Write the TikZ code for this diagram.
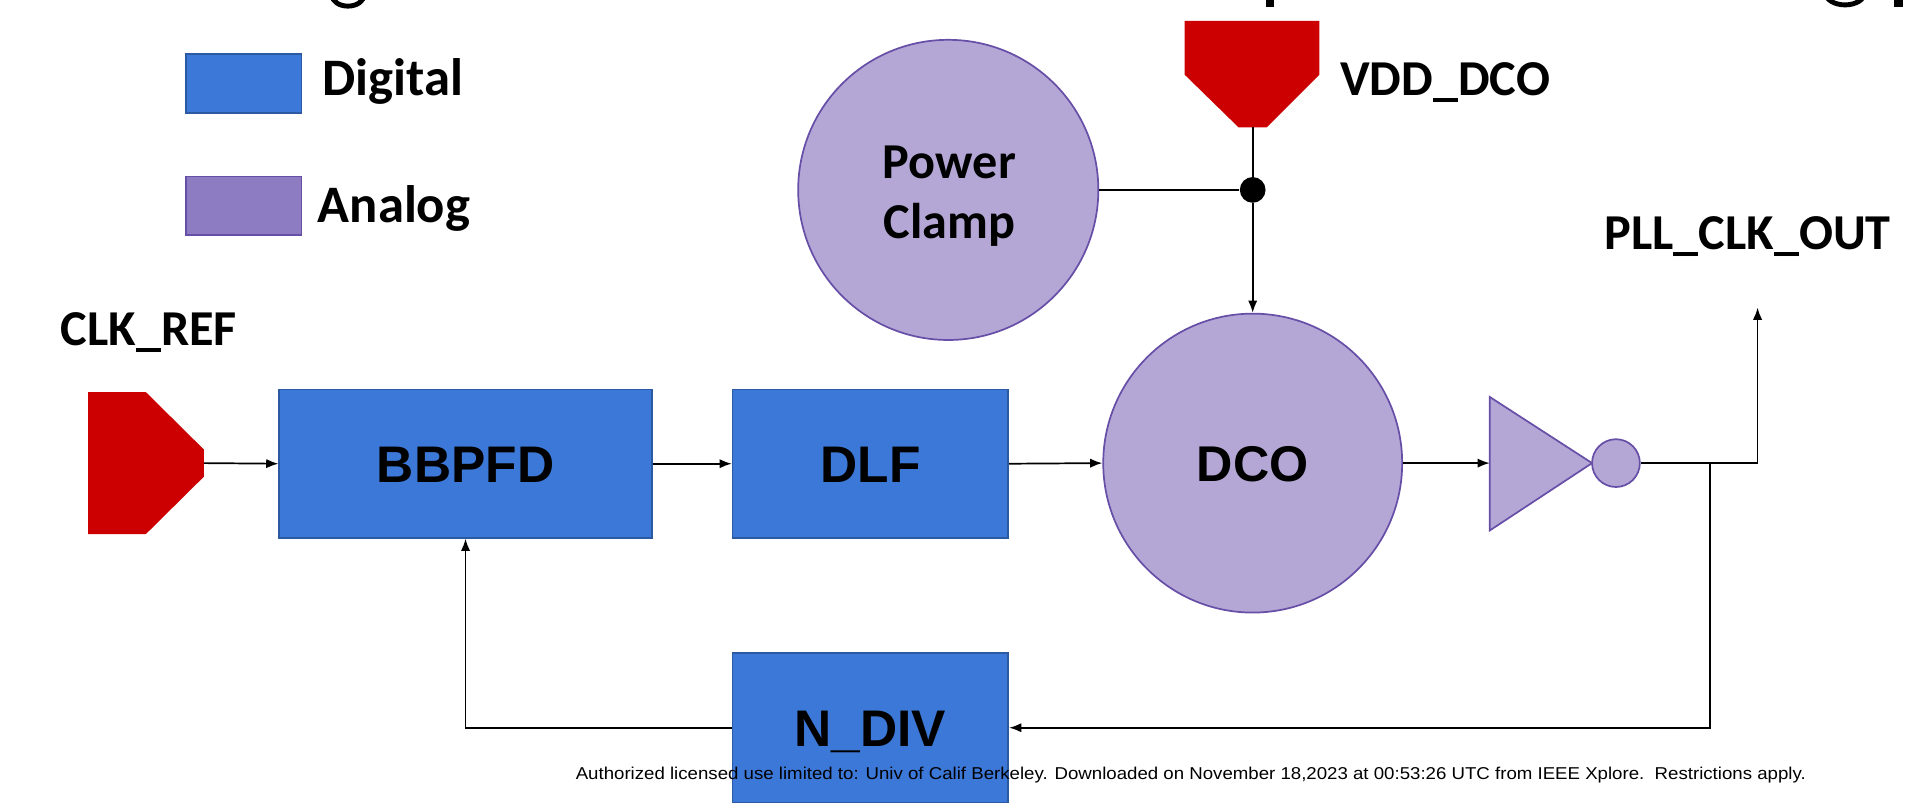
\documentclass[tikz,border=0pt]{standalone}
\usepackage{fontspec}
\setmainfont{Carlito}
\newfontfamily\arialf{Liberation Sans}
\usepackage{graphicx}
\usetikzlibrary{arrows.meta}
\definecolor{dblue}{HTML}{3C78D8}
\definecolor{dbluedraw}{HTML}{2B5AA3}
\definecolor{alav}{HTML}{8E7CC3}
\definecolor{alavdraw}{HTML}{674EA7}
\definecolor{clav}{HTML}{B4A7D6}
\definecolor{padred}{HTML}{CC0000}
\begin{document}
\begin{tikzpicture}[x=0.5pt,y=-0.5pt,
  digibox/.style={draw=dbluedraw, fill=dblue, line width=0.7pt, inner sep=0pt,
    font=\arialf\bfseries\fontsize{21}{25}\selectfont, text height=15.2pt, text depth=0pt},
  anacirc/.style={circle, draw=alavdraw, fill=clav, line width=0.7pt, inner sep=0pt},
  lbl/.style={font=\bfseries\fontsize{20.5}{24.5}\selectfont, inner sep=0pt},
  wire/.style={line width=0.7pt, draw=black},
  conn/.style={wire, -{Latex[length=5pt,width=3.8pt]}},
  padfill/.style={fill=padred}
]
\useasboundingbox (0,0) rectangle (1568,659.5);

% cut-off title fragments at the top edge
\draw[line width=2pt] (271,-4) arc[start angle=180, end angle=0, x radius=13, y radius=9];
\fill (1033.5,-2) rectangle (1039.5,5.4);
\draw[line width=2pt] (1490,-6) arc[start angle=180, end angle=0, x radius=16, y radius=10];
\fill (1546,-2) rectangle (1553,5.4);

% legend
\node[draw=dbluedraw, fill=dblue, line width=0.7pt, minimum width=47pt, minimum height=24pt, inner sep=0pt] (legd) at (199,68) {};
\node[draw=alavdraw, fill=alav, line width=0.7pt, minimum width=47pt, minimum height=24pt, inner sep=0pt] (lega) at (199,168) {};
\node[lbl, anchor=base west, font=\bfseries\fontsize{21.5}{25}\selectfont] (legdt) at (263,77.6) {Digital};
\node[lbl, anchor=base west, font=\bfseries\fontsize{21.5}{25}\selectfont] (legat) at (259,181.8) {Analog};

% pads
\fill[padfill] (967,17) -- (1077,17) -- (1077,61) -- (1034,104) -- (1011,104) -- (967,61) -- cycle;
\coordinate (vddbot) at (1022.5,104);
\fill[padfill] (72,320) -- (119,320) -- (166.5,367) -- (166.5,389) -- (119,436) -- (72,436) -- cycle;
\coordinate (clktip) at (166.5,378);

\node[lbl, anchor=base west] (vddl) at (1093.6,78) {VDD\_DCO};
\node[lbl, anchor=base] (clkl) at (121.5,282) {CLK\_REF};
\node[lbl, anchor=base] (outl) at (1426.5,204) {PLL\_CLK\_OUT};

% analog circles
\node[anacirc, minimum size=122.5pt] (pc) at (774,155) {};
\node[lbl, anchor=base] (pct1) at (775,145.6) {Power};
\node[lbl, anchor=base] (pct2) at (775,194.6) {Clamp};
\node[anacirc, minimum size=122pt, font=\arialf\bfseries\fontsize{20.5}{25}\selectfont, text height=14.8pt, text depth=0pt] (dco) at (1022.5,378) {DCO};

% digital boxes
\node[digibox, minimum width=152pt, minimum height=60.5pt] (bb) at (380,378.5) {BBPFD};
\node[digibox, minimum width=112.5pt, minimum height=60.5pt] (dlf) at (710.5,378.5) {DLF};
\node[digibox, minimum width=112.5pt, minimum height=61pt] (ndiv) at (710.5,594) {N\_DIV};

% junction dot
\node[circle, fill=black, minimum size=10.5pt, inner sep=0pt] (jn) at (1022.5,155) {};

% buffer
\draw[draw=alavdraw, fill=clav, line width=0.7pt, line join=miter] (1216,324) -- (1299.5,378) -- (1216,433) -- cycle;
\coordinate (bufin) at (1216,378);
\node[anacirc, minimum size=19.5pt] (bub) at (1319,378) {};

% connectors
\draw[wire] (vddbot) -- (jn);
\draw[wire] (pc.east) -- (jn);
\draw[conn] (jn) -- (dco.north);
\draw[conn] (clktip) -- (bb.west);
\draw[conn] (bb.east) -- (dlf.west);
\draw[conn] (dlf.east) -- (dco.west);
\draw[conn] (dco.east) -- (bufin);
\coordinate (outc) at (1434.6,378);
\coordinate (outtop) at (1434.6,251);
\draw[conn] (bub.east) -- (outc) -- (outtop);
\coordinate (branch) at (1396,379);
\draw[conn] (branch) |- (ndiv.east);
\draw[conn] (ndiv.west) -| (bb.south);

% footer
\node[anchor=base, inner sep=0pt] (foot) at (972,636) {\resizebox{502pt}{\height}{\arialf\fontsize{7}{8}\selectfont Authorized licensed use limited to: Univ of Calif Berkeley. Downloaded on November 18,2023 at 00:53:26 UTC from IEEE Xplore.\ \ Restrictions apply.}};
\end{tikzpicture}
\end{document}
